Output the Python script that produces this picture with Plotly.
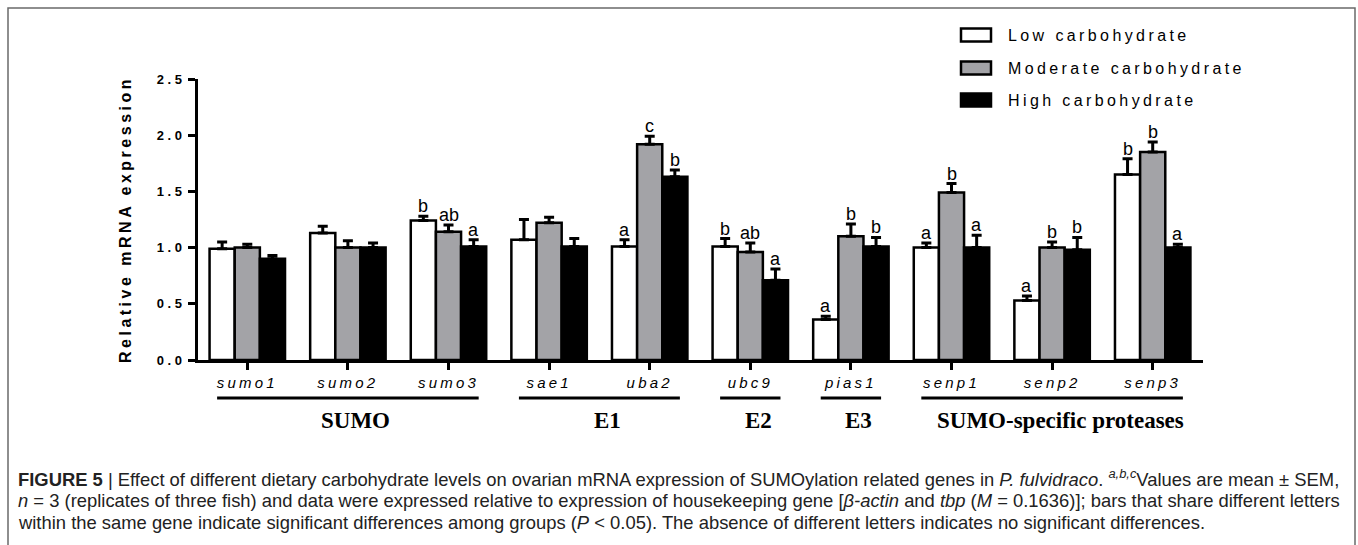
import plotly.graph_objects as go

# ---------------- data ----------------
genes = ['sumo1', 'sumo2', 'sumo3', 'sae1', 'uba2', 'ubc9', 'pias1', 'senp1', 'senp2', 'senp3']
series_names = ['Low carbohydrate', 'Moderate carbohydrate', 'High carbohydrate']
low_mean = [0.99, 1.13, 1.24, 1.07, 1.01, 1.01, 0.36, 1.00, 0.53, 1.65]
low_sem = [0.06, 0.06, 0.04, 0.18, 0.06, 0.07, 0.03, 0.04, 0.04, 0.14]
mod_mean = [1.00, 1.00, 1.14, 1.22, 1.92, 0.96, 1.10, 1.49, 1.00, 1.85]
mod_sem = [0.03, 0.06, 0.06, 0.05, 0.07, 0.08, 0.11, 0.08, 0.05, 0.09]
high_mean = [0.90, 1.00, 1.01, 1.01, 1.63, 0.71, 1.01, 1.00, 0.98, 1.00]
high_sem = [0.03, 0.04, 0.06, 0.07, 0.06, 0.10, 0.08, 0.11, 0.11, 0.03]
low_letters = ['', '', 'b', '', 'a', 'b', 'a', 'a', 'a', 'b']
mod_letters = ['', '', 'ab', '', 'c', 'ab', 'b', 'b', 'b', 'b']
high_letters = ['', '', 'a', '', 'b', 'a', 'b', 'a', 'b', 'a']
group_names = ['SUMO', 'E1', 'E2', 'E3', 'SUMO-specific proteases']
group_first = [0, 3, 5, 6, 7]
group_last = [2, 4, 5, 6, 9]
y_ticks = [0.0, 0.5, 1.0, 1.5, 2.0, 2.5]

caption_lines = [
    "<b>FIGURE 5</b> | Effect of different dietary carbohydrate levels on ovarian mRNA expression of "
    "SUMOylation related genes in <i>P. fulvidraco</i>. <sup><i>a,b,c</i></sup>Values are mean ± SEM,",
    "<i>n</i> = 3 (replicates of three fish) and data were expressed relative to expression of housekeeping "
    "gene [<i>β-actin</i> and <i>tbp</i> (<i>M</i> = 0.1636)]; bars that share different letters",
    "within the same gene indicate significant differences among groups (<i>P</i> &lt; 0.05). "
    "The absence of different letters indicates no significant differences.",
]

# ---------------- style ----------------
colors = ['#ffffff', '#a3a3a7', '#000000']
BARGAP = 0.25
SANS = 'Arial, Liberation Sans, sans-serif'


def spaced(t, sp):
    return f'<span style="letter-spacing:{sp}px">{t}</span>'


x_idx = list(range(len(genes)))
means = [low_mean, mod_mean, high_mean]
sems = [low_sem, mod_sem, high_sem]
letters = [low_letters, mod_letters, high_letters]

fig = go.Figure()
for k in range(3):
    fig.add_trace(go.Bar(
        x=x_idx, y=means[k], name=series_names[k],
        marker=dict(color=colors[k], line=dict(color='black', width=2.5)),
        error_y=dict(type='data', symmetric=False, array=sems[k], arrayminus=[0] * len(genes),
                     color='black', thickness=3, width=5),
        showlegend=False,
    ))

bar_w = (1 - BARGAP) / 3
annotations = []
for k in range(3):
    for i in range(len(genes)):
        if letters[k][i]:
            annotations.append(dict(
                x=i + (k - 1) * bar_w, y=means[k][i] + sems[k][i], xref='x', yref='y',
                text=letters[k][i], showarrow=False, xanchor='center', yanchor='bottom', yshift=-2,
                font=dict(family=SANS, size=18, color='black')))

# plot geometry (pixels) for paper conversions
L, R, T, B = 198, 155, 79, 185
W, H = 1358, 545
pw, ph = W - L - R, H - T - B


def px_x(px):
    return (px - L) / pw


def px_y(py):
    return (H - B - py) / ph


shapes = []
# group underlines and labels
for g, name in enumerate(group_names):
    shapes.append(dict(type='line', xref='x', yref='paper',
                       x0=group_first[g] - 0.3, x1=group_last[g] + 0.3,
                       y0=px_y(398), y1=px_y(398), line=dict(color='black', width=3)))
    annotations.append(dict(x=(group_first[g] + group_last[g]) / 2, y=px_y(420), xref='x', yref='paper',
                            text=f'<b>{name}</b>', showarrow=False, xshift=8,
                            xanchor='center', yanchor='middle',
                            font=dict(family='Liberation Serif, Times New Roman, serif', size=23, color='black')))

# custom legend
leg_rows = [35, 68, 100]
for k in range(3):
    yc = leg_rows[k]
    shapes.append(dict(type='rect', xref='paper', yref='paper',
                       x0=px_x(961), x1=px_x(991), y0=px_y(yc + 6.5), y1=px_y(yc - 6.5),
                       fillcolor=colors[k], line=dict(color='black', width=2.5)))
    annotations.append(dict(x=px_x(1006), y=px_y(yc), xref='paper', yref='paper',
                            xanchor='left', yanchor='middle',
                            text=spaced(series_names[k], 3.4), showarrow=False,
                            font=dict(family=SANS, size=16, color='black')))

# frame
shapes.append(dict(type='rect', xref='paper', yref='paper', x0=px_x(8), x1=px_x(1355),
                   y0=px_y(570), y1=px_y(8), line=dict(color='#6a6a6a', width=1.5), layer='below'))

# caption, one annotation per line
caption_rows = [478, 500, 522]
for line, yc in zip(caption_lines, caption_rows):
    annotations.append(dict(x=px_x(16), y=px_y(yc), xref='paper', yref='paper',
                            xanchor='left', yanchor='middle', align='left',
                            text=line, showarrow=False,
                            font=dict(family=SANS, size=18.4, color='#222222')))

fig.update_layout(
    width=W, height=H,
    margin=dict(l=L, r=R, t=T, b=B, autoexpand=False),
    paper_bgcolor='white', plot_bgcolor='white',
    barmode='group', bargap=BARGAP, bargroupgap=0,
    shapes=shapes, annotations=annotations,
    xaxis=dict(range=[-0.49, 9.5], tickvals=x_idx,
               ticktext=[f'<i>{spaced(g, 3.2)}</i>' for g in genes],
               showline=True, linecolor='black', linewidth=3, ticks='outside', ticklen=7,
               tickwidth=2.5, tickcolor='black', showgrid=False, zeroline=False,
               tickfont=dict(family=SANS, size=15, color='black')),
    yaxis=dict(range=[0, 2.5], tickvals=y_ticks,
               ticktext=[f'<b>{spaced(f"{v:.1f}", 3.5)}</b>' for v in y_ticks],
               showline=True, linecolor='black', linewidth=3, ticks='outside', ticklen=7,
               tickwidth=2.5, tickcolor='black', showgrid=False, zeroline=False,
               tickfont=dict(family=SANS, size=13, color='black'),
               title=dict(text=f'<b>{spaced("Relative mRNA expression", 3.5)}</b>', standoff=22,
                          font=dict(family=SANS, size=16, color='black'))),
)

fig.write_html('out.html')
